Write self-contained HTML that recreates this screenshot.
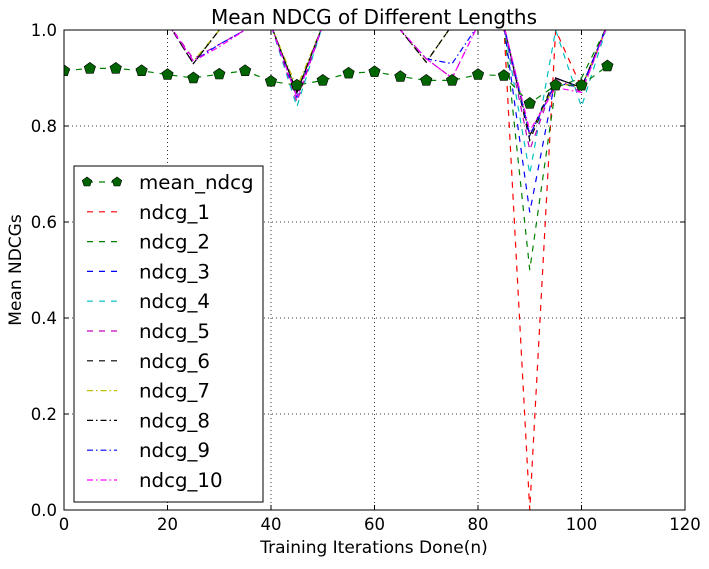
<!DOCTYPE html>
<html><head><meta charset="utf-8"><style>
body{margin:0;background:#fff;}
text{font-family:"DejaVu Sans","Liberation Sans",sans-serif;}
</style></head><body>
<svg id="chart" width="709" height="564" xmlns="http://www.w3.org/2000/svg">
<defs><clipPath id="clip"><rect x="64" y="30" width="621" height="480"/></clipPath></defs>
<rect width="709" height="564" fill="#fff"/>
<text x="374" y="24" font-size="20" text-anchor="middle">Mean NDCG of Different Lengths</text>
<g id="grid"></g>
<g id="series" clip-path="url(#clip)"></g>
<rect x="64" y="30" width="621" height="480" fill="none" stroke="#000" stroke-width="1"/>
<g id="ticks"></g>
<text x="374" y="553" font-size="17" text-anchor="middle">Training Iterations Done(n)</text>
<text transform="translate(21,270) rotate(-90)" font-size="17" text-anchor="middle">Mean NDCGs</text>
<g id="legend"></g>
</svg>
<script>
const xs=[0,5,10,15,20,25,30,35,40,45,50,55,60,65,70,75,80,85,90,95,100,105];
const meanNdcg=[0.915,0.92,0.92,0.915,0.907,0.90,0.908,0.915,0.893,0.885,0.895,0.91,0.913,0.903,0.895,0.895,0.907,0.905,0.847,0.885,0.885,0.925];
const ndcg1=[1.05,1.05,1.05,1.05,1.05,1.05,1.05,1.05,1.01,0.87,1.01,1.05,1.05,1.05,1.05,1.05,1.05,1.01,0.0,1.0,0.88,1.01];
const ndcg2=[1.05,1.05,1.05,1.05,1.05,1.05,1.05,1.05,1.01,0.87,1.01,1.05,1.05,1.05,1.05,1.05,1.05,1.01,0.5,0.88,0.9,1.01];
const ndcg3=[1.05,1.05,1.05,1.05,1.05,1.05,1.05,1.05,1.01,0.86,1.01,1.05,1.05,1.05,1.05,1.05,1.05,1.01,0.62,0.9,0.88,1.01];
const ndcg4=[1.05,1.05,1.05,1.05,1.05,1.05,1.05,1.05,1.01,0.84,1.01,1.05,1.05,1.05,1.05,1.05,1.05,1.01,0.7,1.0,0.84,1.01];
const ndcg5=[1.05,1.05,1.05,1.05,1.015,0.94,0.97,1.0,1.01,0.85,1.01,1.05,1.05,1.0,0.94,0.9,1.01,1.01,0.75,0.9,0.87,1.01];
const ndcg6=[1.05,1.05,1.05,1.05,1.015,0.93,1.0,1.05,1.01,0.87,1.01,1.05,1.05,1.0,0.933,1.01,1.05,1.01,0.77,0.9,0.88,1.01];
const ndcg7=[1.05,1.05,1.05,1.05,1.015,0.935,1.0,1.05,1.01,0.88,1.01,1.05,1.05,1.0,0.933,1.01,1.05,1.01,0.78,0.89,0.88,1.01];
const ndcg8=[1.05,1.05,1.05,1.05,1.015,0.93,1.0,1.05,1.01,0.87,1.01,1.05,1.05,1.0,0.933,1.01,1.05,1.01,0.78,0.9,0.88,1.01];
const ndcg9=[1.05,1.05,1.05,1.05,1.015,0.935,0.97,1.0,1.01,0.86,1.01,1.05,1.05,1.0,0.94,0.93,1.01,1.01,0.78,0.89,0.88,1.01];
const ndcg10=[1.05,1.05,1.05,1.05,1.015,0.935,0.965,1.0,1.01,0.86,1.01,1.05,1.05,1.0,0.94,0.9,1.01,1.01,0.79,0.88,0.87,1.01];
const xTicks=[0,20,40,60,80,100,120];
const yTicks=[0.0,0.2,0.4,0.6,0.8,1.0];
const seriesNames=["ndcg_1","ndcg_2","ndcg_3","ndcg_4","ndcg_5","ndcg_6","ndcg_7","ndcg_8","ndcg_9","ndcg_10"];
const seriesVals=[ndcg1,ndcg2,ndcg3,ndcg4,ndcg5,ndcg6,ndcg7,ndcg8,ndcg9,ndcg10];
const colors=["#ff0000","#008000","#0000ff","#00bfbf","#bf00bf","#000000","#bfbf00","#000000","#0000ff","#ff00ff"];
const dashes=["6,6","6,6","6,6","6,6","6,6","6,6","6,3,1.5,3","6,3,1.5,3","6,3,1.5,3","6,3,1.5,3"];
const NS="http://www.w3.org/2000/svg";
const X=v=>64+v*621/120, Y=v=>510-v*480;
function mk(t,a,p){const e=document.createElementNS(NS,t);for(const k in a)e.setAttribute(k,a[k]);p.appendChild(e);return e;}
const grid=document.getElementById('grid'),ticks=document.getElementById('ticks'),ser=document.getElementById('series'),leg=document.getElementById('legend');
xTicks.forEach(t=>{
 if(t>0&&t<120){const g=mk('line',{x1:X(t),x2:X(t),y1:30,y2:510,stroke:'#000','stroke-dasharray':'1,3','stroke-width':0.8},grid);
 
 }
 mk('line',{x1:X(t),x2:X(t),y1:510,y2:505,stroke:'#000'},ticks);
 mk('line',{x1:X(t),x2:X(t),y1:30,y2:35,stroke:'#000'},ticks);
 const l=mk('text',{x:X(t),y:530,'font-size':16.5,'text-anchor':'middle'},ticks);l.textContent=t;
 
 
});
yTicks.forEach(t=>{
 if(t>0&&t<1){const g=mk('line',{x1:64,x2:685,y1:Y(t),y2:Y(t),stroke:'#000','stroke-dasharray':'1,3','stroke-width':0.8},grid);
 
 }
 mk('line',{x1:64,x2:69,y1:Y(t),y2:Y(t),stroke:'#000'},ticks);
 mk('line',{x1:680,x2:685,y1:Y(t),y2:Y(t),stroke:'#000'},ticks);
 const l=mk('text',{x:57,y:Y(t)+6,'font-size':16.5,'text-anchor':'end'},ticks);l.textContent=t.toFixed(1);
 
 
});
seriesVals.forEach((vals,i)=>{
 const p=mk('polyline',{points:vals.map((v,j)=>X(xs[j])+','+Y(v)).join(' '),fill:'none',stroke:colors[i],'stroke-width':1.2,'stroke-dasharray':dashes[i]},ser);
 
 
});
function pent(cx,cy,r){let s=[];for(let k=0;k<5;k++){const a=-Math.PI/2+k*2*Math.PI/5;s.push((cx+r*Math.cos(a)).toFixed(1)+','+(cy+r*Math.sin(a)).toFixed(1));}return s.join(' ');}
const ml=mk('polyline',{points:meanNdcg.map((v,j)=>X(xs[j])+','+Y(v)).join(' '),fill:'none',stroke:'#008000','stroke-width':1.2,'stroke-dasharray':'6,6'},ser);


meanNdcg.forEach((v,j)=>{
 const m=mk('polygon',{points:pent(X(xs[j]),Y(v),6),fill:'#006400',stroke:'#000','stroke-width':0.6},ser);
 
 
});
const box=mk('rect',{x:74,y:166,width:189,height:336,fill:'#fff',stroke:'#000','stroke-width':1},leg);


const ents=["mean_ndcg"].concat(seriesNames);
ents.forEach((n,i)=>{
 const y=182+i*29.8;
 const g=mk('g',{},leg);
 
 
 if(i===0){
  mk('line',{x1:87,x2:117,y1:y,y2:y,stroke:'#008000','stroke-width':1.2,'stroke-dasharray':'6,6'},g);
  mk('polygon',{points:pent(87,y,5),fill:'#006400',stroke:'#000','stroke-width':0.6},g);
  mk('polygon',{points:pent(117,y,5),fill:'#006400',stroke:'#000','stroke-width':0.6},g);
 } else {
  mk('line',{x1:87,x2:117,y1:y,y2:y,stroke:colors[i-1],'stroke-width':1.2,'stroke-dasharray':dashes[i-1]},g);
 }
 const t=mk('text',{x:139,y:y+7,'font-size':19.8},g);t.textContent=n;
});
</script>
</body></html>
